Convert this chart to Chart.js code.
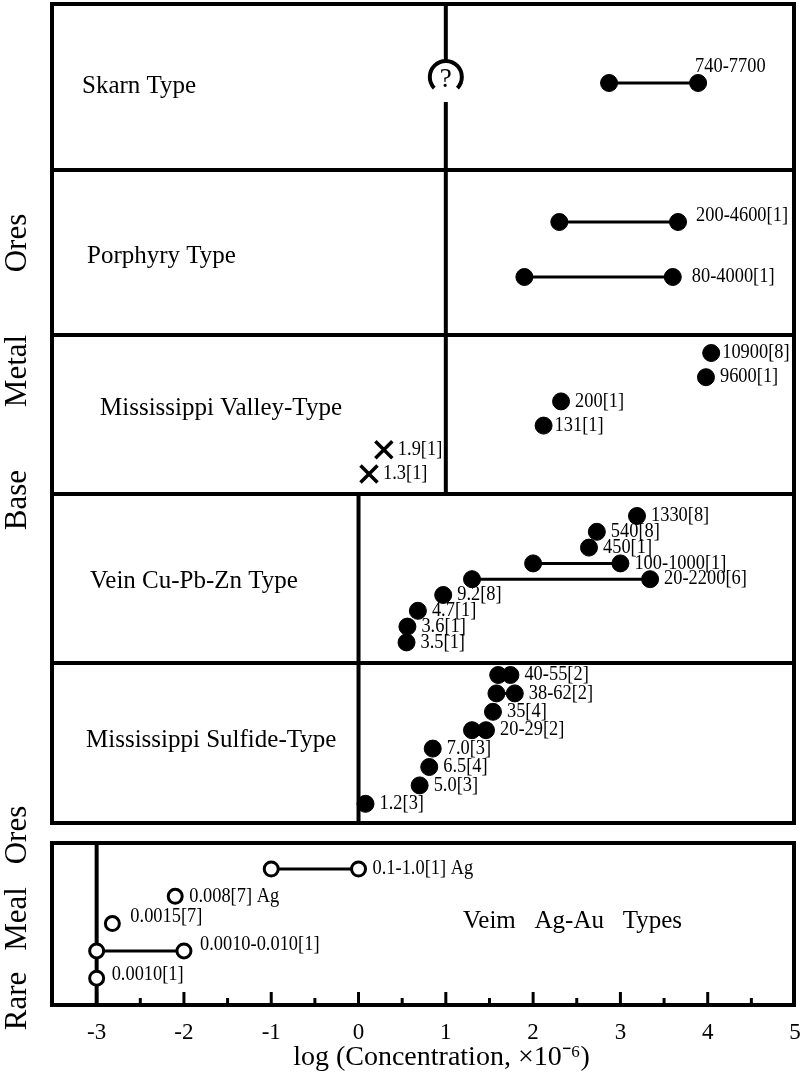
<!DOCTYPE html>
<html>
<head>
<meta charset="utf-8">
<script src="https://cdn.jsdelivr.net/npm/chart.js@4.4.1/dist/chart.umd.min.js"></script>
<style>
  html, body { margin: 0; padding: 0; background: #fff; }
  #wrap { width: 800px; height: 1080px; }
</style>
</head>
<body>
<div id="wrap"><canvas id="chart"></canvas></div>
<script>
// log10 of concentration (x10^-6); high = null means a single value
const skarnLabels = ['740-7700'];
const skarnLow = [2.87];
const skarnHigh = [3.89];

const porphyryLabels = ['200-4600[1]', '80-4000[1]'];
const porphyryLow = [2.30, 1.90];
const porphyryHigh = [3.66, 3.60];

const mvtLabels = ['10900[8]', '9600[1]', '200[1]', '131[1]', '1.9[1]', '1.3[1]'];
const mvtLow = [4.04, 3.98, 2.32, 2.12, 0.29, 0.12];
const mvtHigh = [null, null, null, null, null, null];
const mvtCross = [false, false, false, false, true, true];

const veinLabels = ['1330[8]', '540[8]', '450[1]', '100-1000[1]', '20-2200[6]', '9.2[8]', '4.7[1]', '3.6[1]', '3.5[1]'];
const veinLow = [3.19, 2.73, 2.64, 2.00, 1.30, 0.97, 0.68, 0.56, 0.55];
const veinHigh = [null, null, null, 3.00, 3.34, null, null, null, null];

const sulfideLabels = ['40-55[2]', '38-62[2]', '35[4]', '20-29[2]', '7.0[3]', '6.5[4]', '5.0[3]', '1.2[3]'];
const sulfideLow = [1.60, 1.58, 1.54, 1.30, 0.85, 0.81, 0.70, 0.08];
const sulfideHigh = [1.74, 1.79, null, 1.46, null, null, null, null];

const rareLabels = ['0.1-1.0[1] Ag', '0.008[7] Ag', '0.0015[7]', '0.0010-0.010[1]', '0.0010[1]'];
const rareLow = [-1.00, -2.10, -2.82, -3.00, -3.00];
const rareHigh = [0.00, null, null, -2.00, null];

const xMin = -3.5, xMax = 5;
const xTitle = 'log (Concentration, \u00d710\u207b\u2076)';
const serif = "'Liberation Serif', 'Times New Roman', serif";

// layout of the panels (y axis runs 0..1001 from the top)
const panels = [
  { name: 'Skarn Type', labels: skarnLabels, low: skarnLow, high: skarnHigh,
    top: 0, bottom: 166, row0: 79, step: 0, divider: 1, nameX: 82, nameY: 89 },
  { name: 'Porphyry Type', labels: porphyryLabels, low: porphyryLow, high: porphyryHigh,
    top: 166, bottom: 331, row0: 218, step: 55, divider: 1, nameX: 87, nameY: 259 },
  { name: 'Mississippi Valley-Type', labels: mvtLabels, low: mvtLow, high: mvtHigh, cross: mvtCross,
    top: 331, bottom: 490, row0: 349, step: 24.2, divider: 1, nameX: 100, nameY: 411 },
  { name: 'Vein Cu-Pb-Zn Type', labels: veinLabels, low: veinLow, high: veinHigh,
    top: 490, bottom: 659, row0: 512, step: 15.8, divider: 0, nameX: 90, nameY: 584 },
  { name: 'Mississippi Sulfide-Type', labels: sulfideLabels, low: sulfideLow, high: sulfideHigh,
    top: 659, bottom: 819, row0: 671, step: 18.4, divider: 0, nameX: 86, nameY: 743 },
  { name: 'Veim   Ag-Au   Types', labels: rareLabels, low: rareLow, high: rareHigh, open: true,
    top: 839, bottom: 1001, row0: 865, step: 27.3, divider: -3, nameX: 463, nameY: 924 }
];

// label tweaks where the reference puts the text somewhere else
const labelShift = {
  '740-7700': [-3, -16],
  '200-4600[1]': [18, -6],
  '80-4000[1]': [19, 0],
  '10900[8]': [11, 0],
  '131[1]': [11, 0],
  '0.0015[7]': [18, -7],
  '0.0010-0.010[1]': [16, -6],
  '0.0010[1]': [15, -3]
};

const datasets = [];
panels.forEach(p => {
  p.labels.forEach((lab, i) => {
    const y = p.row0 + i * p.step;
    const pts = [{ x: p.low[i], y }];
    if (p.high[i] !== null) pts.push({ x: p.high[i], y });
    const isCross = p.cross && p.cross[i];
    datasets.push({
      data: pts,
      showLine: pts.length > 1,
      borderColor: '#000',
      borderWidth: 3,
      pointStyle: isCross ? 'crossRot' : 'circle',
      pointRadius: isCross ? 12 : (p.open ? 7 : 8.5),
      pointBorderWidth: isCross ? 3.5 : (p.open ? 3 : 1),
      pointBackgroundColor: p.open ? '#fff' : '#000',
      pointBorderColor: '#000',
      clip: false
    });
  });
});

function squeezeText(ctx, text, x, y, sx) {
  ctx.save();
  ctx.translate(x, y);
  ctx.scale(sx, 1);
  ctx.fillText(text, 0, 0);
  ctx.restore();
}

const framePlugin = {
  id: 'frames',
  beforeDatasetsDraw(chart) {
    const { ctx, scales: { x, y } } = chart;
    const X = v => x.getPixelForValue(v);
    const Y = v => y.getPixelForValue(v);
    ctx.save();
    ctx.strokeStyle = '#000';
    ctx.lineWidth = 4;
    ctx.lineCap = 'butt';

    // upper block of base metal panels
    ctx.strokeRect(X(xMin) - 1, Y(0), X(xMax) - X(xMin), Y(819) - Y(0));
    // lower block (rare metal)
    ctx.strokeRect(X(xMin) - 1, Y(839), X(xMax) - X(xMin), Y(1001) - Y(839));

    panels.forEach((p, k) => {
      if (k < 4) {
        ctx.beginPath();
        ctx.moveTo(X(xMin) - 1, Y(p.bottom));
        ctx.lineTo(X(xMax) - 1, Y(p.bottom));
        ctx.stroke();
      }
      const dx = X(p.divider);
      ctx.beginPath();
      if (k === 0) {
        // divider broken by the "?" mark
        const cy = Y(73), r = 16;
        ctx.moveTo(dx, Y(p.top));
        ctx.lineTo(dx, cy - r);
        ctx.moveTo(dx, Y(98));
        ctx.lineTo(dx, Y(p.bottom));
        ctx.stroke();
        ctx.beginPath();
        ctx.arc(dx, cy, r, Math.PI - 0.76, 2 * Math.PI + 0.76);
        ctx.stroke();
        ctx.fillStyle = '#000';
        ctx.font = '27px ' + serif;
        ctx.textAlign = 'center';
        ctx.textBaseline = 'alphabetic';
        ctx.fillText('?', dx, cy + 10);
      } else {
        ctx.moveTo(dx, Y(p.top));
        ctx.lineTo(dx, Y(p.bottom));
        ctx.stroke();
      }
    });

    // inward tick marks on the bottom edge
    ctx.lineWidth = 3;
    x.ticks.forEach(t => {
      if (t.value <= xMin || t.value >= xMax) return;
      const len = Number.isInteger(t.value) ? 13 : 7;
      ctx.beginPath();
      ctx.moveTo(X(t.value), Y(1001));
      ctx.lineTo(X(t.value), Y(1001) - len);
      ctx.stroke();
    });
    ctx.restore();
  },
  afterDatasetsDraw(chart) {
    const { ctx, scales: { x, y } } = chart;
    const X = v => x.getPixelForValue(v);
    const Y = v => y.getPixelForValue(v);
    ctx.save();
    ctx.fillStyle = '#000';

    // panel names
    ctx.font = '25px ' + serif;
    ctx.textAlign = 'left';
    ctx.textBaseline = 'alphabetic';
    panels.forEach(p => ctx.fillText(p.name, p.nameX, Y(p.nameY)));

    // value labels
    ctx.font = '20px ' + serif;
    ctx.textBaseline = 'middle';
    panels.forEach(p => {
      p.labels.forEach((lab, i) => {
        const right = p.high[i] !== null ? Math.max(p.low[i], p.high[i]) : p.low[i];
        const [ox, oy] = labelShift[lab] || [14, 0];
        squeezeText(ctx, lab, X(right) + ox, Y(p.row0 + i * p.step) + oy, 0.92);
      });
    });

    // axis title, sitting a little right of centre as in the reference
    ctx.font = '28px ' + serif;
    ctx.textAlign = 'center';
    ctx.fillText(xTitle, X(0.95), 1058);

    // side titles, reading upward
    ctx.font = '31px ' + serif;
    ctx.textBaseline = 'alphabetic';
    [['Ores', 243], ['Metal', 371], ['Base', 500], ['Ores', 835], ['Meal', 919], ['Rare', 1001]]
      .forEach(([word, cy]) => {
        ctx.save();
        ctx.translate(26, cy);
        ctx.rotate(-Math.PI / 2);
        ctx.fillText(word, 0, 0);
        ctx.restore();
      });
    ctx.restore();
  }
};

new Chart(document.getElementById('chart'), {
  type: 'scatter',
  data: { datasets },
  options: {
    responsive: true,
    maintainAspectRatio: false,
    animation: false,
    layout: { autoPadding: false, padding: { left: 53, right: 5, top: 4, bottom: 0 } },
    plugins: { legend: { display: false }, tooltip: { enabled: false } },
    scales: {
      x: {
        type: 'linear',
        min: xMin,
        max: xMax,
        grid: { display: false, drawTicks: false },
        border: { display: false },
        afterFit(scale) {
          scale.height = 75;
          scale.paddingLeft = 0;
          scale.paddingRight = 0;
        },
        ticks: {
          stepSize: 0.5,
          autoSkip: false,
          maxRotation: 0,
          padding: 14,
          color: '#000',
          font: { family: serif, size: 23 },
          callback: v => Number.isInteger(v) ? String(v) : ''
        },
        title: { display: false, text: xTitle }
      },
      y: {
        type: 'linear',
        display: false,
        reverse: true,
        min: 0,
        max: 1001
      }
    }
  },
  plugins: [framePlugin]
});
</script>
</body>
</html>
